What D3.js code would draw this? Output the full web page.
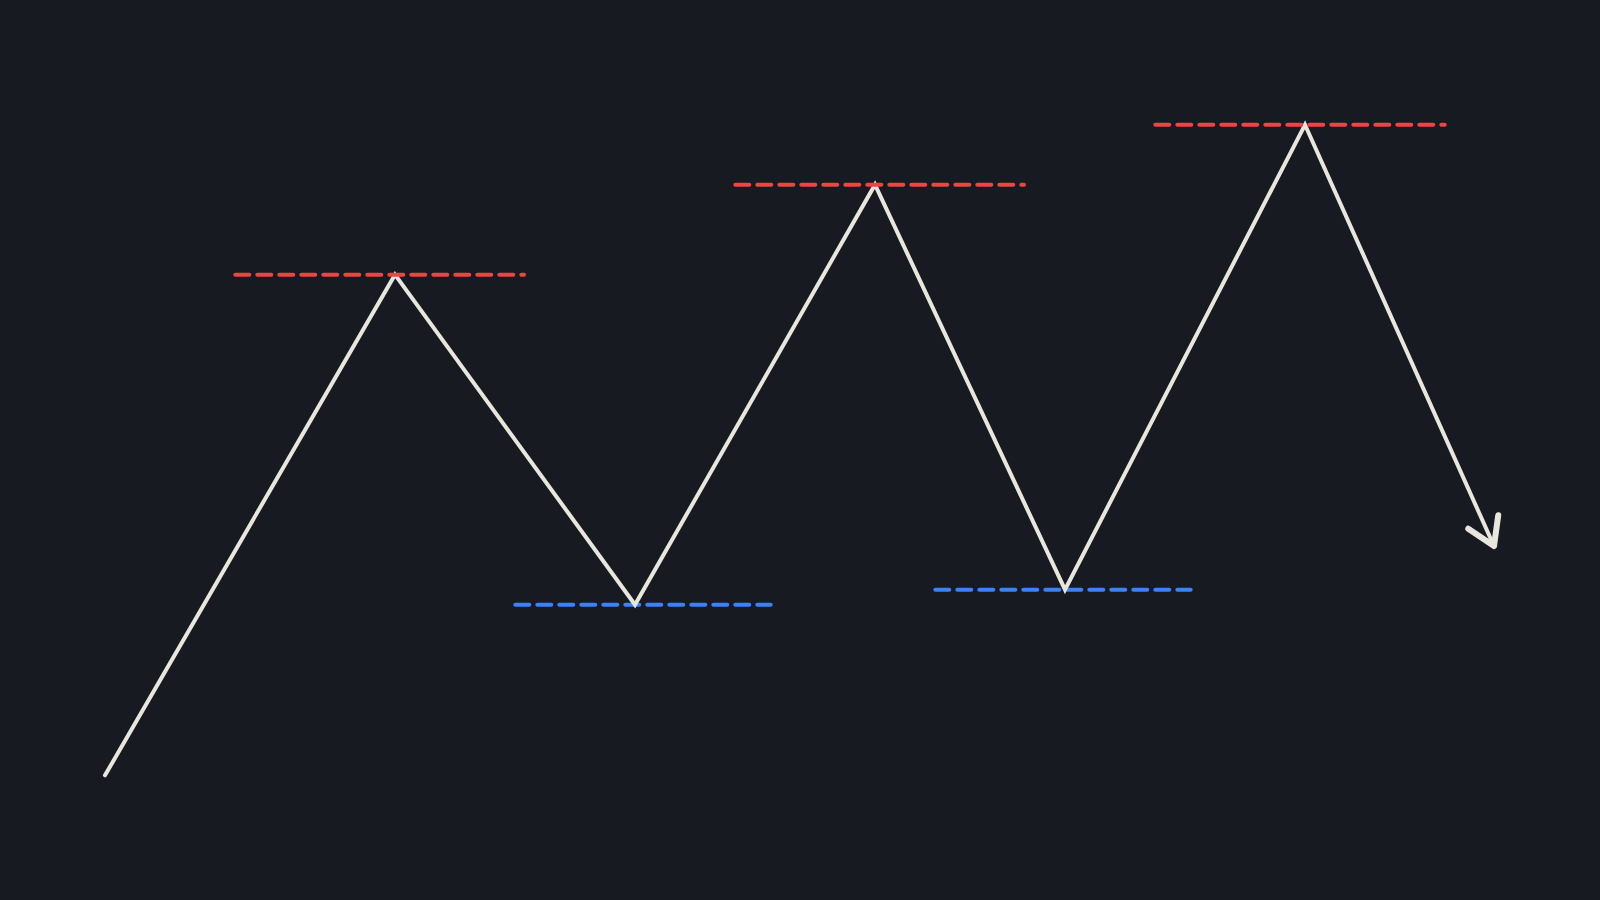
<!DOCTYPE html>
<html>
<head>
<meta charset="utf-8">
<script src="https://cdn.jsdelivr.net/npm/d3@7/dist/d3.min.js"></script>
<style>
  html, body { margin: 0; padding: 0; background: #171a21; overflow: hidden; }
  svg { display: block; }
</style>
</head>
<body>
<svg id="chart" width="1600" height="900"></svg>
<script>
// ---- Data (abstract time units / price units) ----
const pivotTimes  = [10.5, 39.5, 63.5, 87.5, 106.5, 130.5, 149.4];
const pivotPrices = [13.85, 69.48, 32.81, 79.48, 34.48, 86.14, 39.33];

// resistance (swing-high) levels
const highLevels = [69.48, 79.48, 86.14];
const highStarts = [23.53, 73.53, 115.53];
const highEnds   = [52.40, 102.40, 144.47];

// support (swing-low) levels
const lowLevels = [32.81, 34.48];
const lowStarts = [51.53, 93.53];
const lowEnds   = [77.07, 119.07];

// ---- Setup ----
const W = 1600, H = 900;
const svg = d3.select("#chart");
svg.append("rect").attr("width", W).attr("height", H).attr("fill", "#171a21");

const x = d3.scaleLinear().domain([0, 160]).range([0, W]);
const y = d3.scaleLinear().domain([0, 100]).range([H, 0]);

const pts = pivotTimes.map((t, i) => ({ t, p: pivotPrices[i] }));
const highs = highLevels.map((p, i) => ({ p, t0: highStarts[i], t1: highEnds[i] }));
const lows  = lowLevels.map((p, i) => ({ p, t0: lowStarts[i], t1: lowEnds[i] }));

function drawLevels(data, color) {
  svg.append("g").selectAll("line").data(data).join("line")
    .attr("x1", d => x(d.t0)).attr("x2", d => x(d.t1))
    .attr("y1", d => y(d.p)).attr("y2", d => y(d.p))
    .attr("stroke", color)
    .attr("stroke-width", 4)
    .attr("stroke-linecap", "round")
    .attr("stroke-dasharray", "14 8");
}

drawLevels(lows, "#3b82f6");

const line = d3.line().x(d => x(d.t)).y(d => y(d.p));
svg.append("path")
  .datum(pts)
  .attr("d", line)
  .attr("fill", "none")
  .attr("stroke", "#e9e6dd")
  .attr("stroke-width", 4)
  .attr("stroke-linecap", "round")
  .attr("stroke-linejoin", "miter")
  .attr("stroke-miterlimit", 10);

drawLevels(highs, "#ef4444");

// ---- Arrowhead at the end of the path ----
const a = pts[pts.length - 2], b = pts[pts.length - 1];
const bx = x(b.t), by = y(b.p);
const ang = Math.atan2(by - y(a.p), bx - x(a.t));
const len = 31, spread = 32 * Math.PI / 180;
const back = ang + Math.PI;
const w1 = [bx + len * Math.cos(back - spread), by + len * Math.sin(back - spread)];
const w2 = [bx + len * Math.cos(back + spread), by + len * Math.sin(back + spread)];
svg.append("path")
  .attr("d", d3.line()([w1, [bx, by], w2]))
  .attr("fill", "none")
  .attr("stroke", "#e9e6dd")
  .attr("stroke-width", 6)
  .attr("stroke-linecap", "round")
  .attr("stroke-linejoin", "round");
</script>
</body>
</html>
